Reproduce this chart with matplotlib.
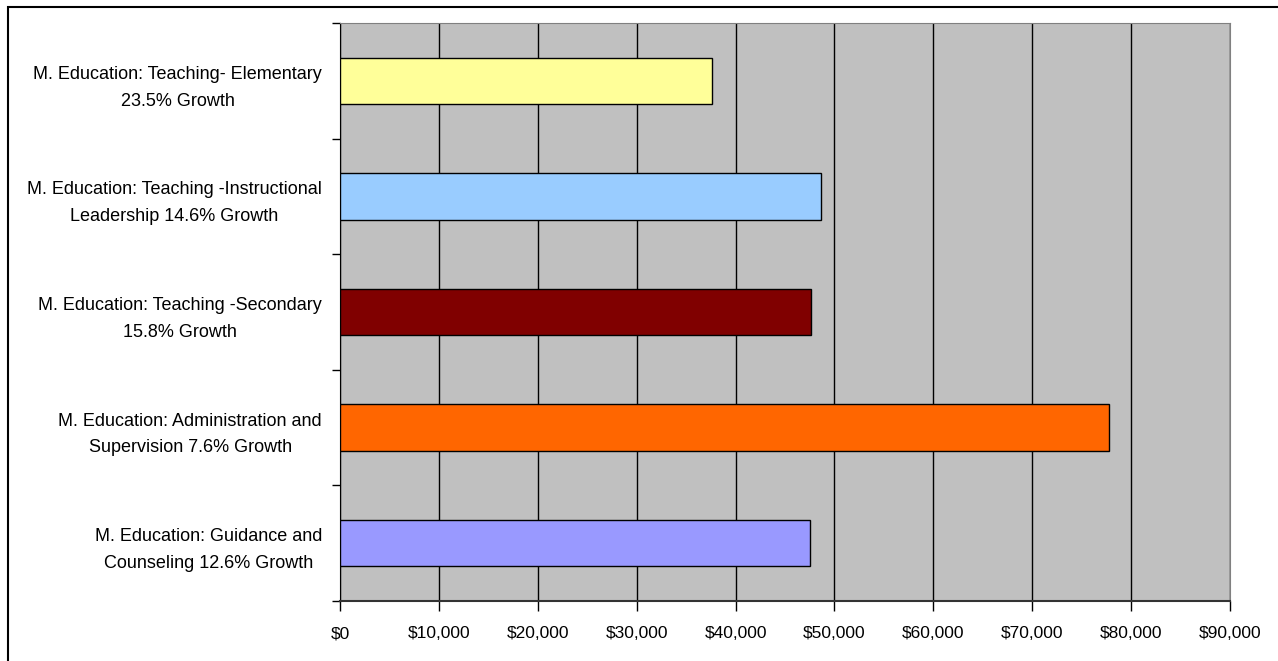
import matplotlib
matplotlib.use("Agg")
import matplotlib.pyplot as plt
from matplotlib.patches import Rectangle

# categories listed top to bottom
programs = [
    "M. Education: Teaching- Elementary\n23.5% Growth",
    "M. Education: Teaching -Instructional\nLeadership 14.6% Growth",
    "M. Education: Teaching -Secondary\n15.8% Growth",
    "M. Education: Administration and\nSupervision 7.6% Growth",
    "M. Education: Guidance and\nCounseling 12.6% Growth",
]
salaries = [37650, 48650, 47650, 77800, 47500]
bar_colors = ["#FFFF99", "#99CCFF", "#800000", "#FF6600", "#9999FF"]
xticks = list(range(0, 90001, 10000))
xtick_labels = ["${:,}".format(v) for v in xticks]

plt.rcParams['font.family'] = ['Liberation Sans', 'DejaVu Sans']

fig = plt.figure(figsize=(12.78, 6.61), dpi=100)
ax = fig.add_axes([340 / 1278, 1 - 601 / 661, 890 / 1278, 578 / 661])

# outer chart border
fig.patches.append(Rectangle((8 / 1278, -0.05), 1.2, 1 - 7 / 661 + 0.05,
                             transform=fig.transFigure, fill=False,
                             edgecolor="black", linewidth=1.5))

ax.set_facecolor("#C0C0C0")
pos = list(range(len(programs)))
ax.barh(pos, salaries, height=0.4, color=bar_colors, edgecolor="black",
        linewidth=1, zorder=3)

ax.set_xlim(0, 90000)
ax.set_ylim(len(programs) - 0.5, -0.5)

ax.set_xticks(xticks)
ax.set_xticklabels(xtick_labels, fontsize=12.5)
ax.tick_params(axis="x", direction="out", length=7, width=1, pad=11)
ax.grid(axis="x", color="black", linewidth=1, zorder=1)

# tick marks at category boundaries, labels at centers
ax.set_yticks([p - 0.5 for p in pos] + [len(programs) - 0.5])
ax.set_yticklabels([])
ax.tick_params(axis="y", which="major", direction="out", length=6, width=1)
ax.set_yticks(pos, minor=True)
ax.set_yticklabels(programs, minor=True, fontsize=13)
ax.tick_params(axis="y", which="minor", length=0, pad=13)
for lbl in ax.get_yticklabels(minor=True):
    lbl.set_multialignment("center")
    lbl.set_linespacing(1.75)

for side in ["top", "right"]:
    ax.spines[side].set_color("#808080")
ax.spines["left"].set_color("black")
ax.spines["bottom"].set_color("#333333")
ax.spines["bottom"].set_linewidth(1.5)

fig.savefig("out.png", dpi=100)
